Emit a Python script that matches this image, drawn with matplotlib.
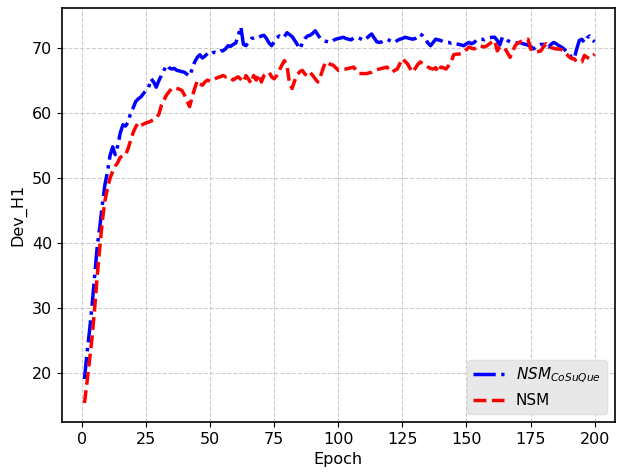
import numpy as np
import matplotlib
matplotlib.use("Agg")
import matplotlib.pyplot as plt

epochs = list(range(1, 201))

nsm_cosuque = [
    19.0, 23.0, 26.5, 30.5, 35.0, 39.5, 42.5, 46.0, 49.0, 51.0,
    53.5, 54.8, 53.6, 55.0, 57.0, 58.2, 58.0, 58.6, 60.0, 60.8,
    61.8, 62.2, 62.5, 63.0, 63.5, 63.9, 65.3, 64.8, 64.0, 65.0,
    65.8, 66.6, 67.4, 67.0, 66.8, 66.9, 66.6, 66.5, 66.4, 66.3,
    66.0, 65.7, 66.8, 67.9, 68.6, 69.0, 68.5, 68.8, 69.2, 69.0,
    69.3, 69.4, 69.3, 69.6, 69.6, 69.9, 70.4, 70.3, 70.6, 70.8,
    72.0, 73.3, 70.6, 70.4, 71.0, 71.5, 71.6, 71.8, 71.7, 71.9,
    72.0, 71.5, 70.8, 70.4, 71.0, 71.6, 71.9, 71.6, 71.8, 72.4,
    72.1, 71.8, 71.2, 70.6, 69.9, 70.8, 71.5, 71.9, 72.0, 72.3,
    72.7, 72.1, 71.5, 71.3, 71.1, 71.0, 70.9, 71.2, 71.4, 71.5,
    71.6, 71.7, 71.5, 71.4, 71.3, 71.6, 71.7, 71.6, 71.4, 71.2,
    71.5, 71.9, 72.2, 71.6, 71.0, 70.9, 71.0, 71.2, 71.4, 71.2,
    71.0, 70.9, 71.2, 71.4, 71.5, 71.7, 71.6, 71.5, 71.4, 71.5,
    71.8, 72.2, 71.9, 71.4, 70.8, 70.4, 70.9, 71.4, 71.3, 71.2,
    71.0, 70.9, 70.9, 70.8, 70.9, 70.7, 70.6, 70.5, 70.4, 70.7,
    70.9, 70.7, 70.9, 71.3, 71.4, 71.4, 71.3, 71.5, 71.6, 71.7,
    71.7, 71.2, 70.5, 71.7, 71.5, 71.2, 71.0, 70.9, 70.9, 70.8,
    70.9, 70.7, 70.6, 70.5, 70.3, 69.9, 70.1, 70.4, 70.6, 70.6,
    70.3, 70.2, 70.6, 70.9, 70.7, 70.4, 70.2, 69.9, 69.5, 69.1,
    68.6, 68.4, 69.9, 71.2, 71.4, 70.9, 71.6, 71.9, 71.3, 71.0,
]

nsm = [
    15.3, 18.5, 22.0, 25.5, 30.0, 35.0, 39.4, 43.5, 46.5, 48.5,
    50.0, 51.0, 51.8, 52.4, 53.2, 53.4, 53.5, 54.5, 55.8, 57.0,
    57.9, 58.5, 58.1, 58.3, 58.5, 58.6, 58.8, 59.0, 59.3, 59.8,
    61.2, 62.0, 62.8, 63.3, 63.8, 63.9, 63.8, 63.7, 63.5, 62.8,
    61.9, 61.0, 62.5, 63.8, 65.0, 64.5, 64.3, 64.8, 65.1, 64.9,
    65.1, 65.3, 65.5, 65.6, 65.8, 65.6, 65.7, 65.4, 65.1, 65.4,
    65.6, 65.2, 64.8, 65.8, 65.2, 64.6, 65.8, 65.1, 66.0, 64.8,
    65.8, 66.1, 66.3, 65.6, 65.3, 65.8, 66.6, 67.4, 68.1, 67.3,
    64.5, 63.8, 65.0, 65.9, 66.4, 66.6, 66.0, 65.8, 66.3, 65.8,
    65.3, 64.8, 65.6, 66.8, 67.9, 67.7, 67.5, 67.4, 67.0, 66.6,
    66.7, 66.8, 66.8, 66.9, 67.0, 67.1, 66.6, 66.1, 66.1, 66.1,
    66.1, 66.2, 66.3, 66.5, 66.7, 66.8, 66.9, 67.0, 67.1, 66.6,
    66.3, 66.6, 66.8, 67.6, 68.4, 68.0, 67.6, 66.9, 66.3, 66.9,
    67.5, 67.9, 67.6, 67.4, 67.1, 66.9, 66.8, 67.0, 66.3, 67.1,
    67.0, 66.8, 67.3, 67.9, 69.0, 69.1, 69.1, 69.2, 69.4, 69.8,
    70.2, 70.0, 69.9, 70.1, 70.4, 70.3, 70.2, 70.4, 70.7, 71.0,
    71.2, 69.6, 70.2, 70.1, 70.0, 69.3, 68.6, 69.5, 70.4, 70.8,
    71.0, 71.2, 71.3, 71.4, 69.9, 69.6, 69.4, 69.5, 69.6, 70.2,
    70.7, 70.2, 70.1, 70.0, 69.9, 69.9, 69.8, 69.5, 69.1, 68.7,
    68.4, 68.4, 67.9, 67.9, 67.9, 68.9, 68.6, 68.4, 68.8, 69.1,
]

fig = plt.figure(figsize=(6.19, 4.75), dpi=100)
ax = fig.add_axes([0.100, 0.112, 0.893, 0.871])

ax.plot(epochs, nsm_cosuque, color="blue", linestyle="-.", linewidth=2.5,
        label=r"$NSM_{CoSuQue}$")
ax.plot(epochs, nsm, color="red", linestyle="--", linewidth=2.5, label="NSM")

ax.set_xlim(-7.8, 207.8)
ax.set_xticks([0, 25, 50, 75, 100, 125, 150, 175, 200])
ax.set_xlabel("Epoch", fontsize=11.5)
ax.set_ylabel("Dev_H1", fontsize=11.5)
ax.tick_params(labelsize=11.5)
ax.grid(True, linestyle="--", color="#cccccc", linewidth=0.8)

for s in ax.spines.values():
    s.set_linewidth(1.2)

leg = ax.legend(loc="lower right", facecolor="#e8e8e8", edgecolor="#e0e0e0",
                framealpha=1.0, fontsize=11)

fig.savefig("out.png", dpi=100)
